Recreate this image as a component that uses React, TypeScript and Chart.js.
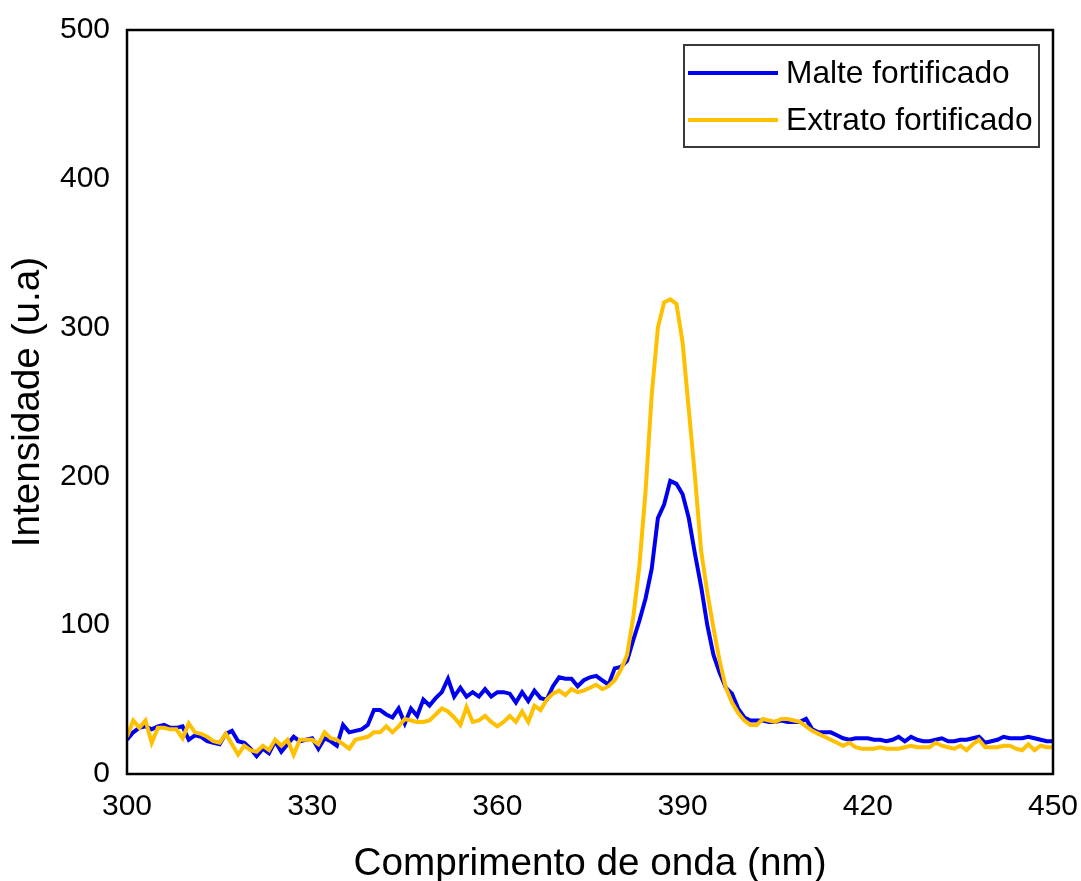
import React, { useEffect, useRef } from "react";
import { Chart, registerables } from "chart.js";

Chart.register(...registerables);

const START_NM = 300;
const STEP_NM = 1;

const malteValues = [
  23, 28, 31, 32, 30, 32, 33, 31, 31, 32,
  23, 26, 25, 22, 21, 20, 27, 29, 22, 21,
  17, 12, 17, 14, 22, 15, 20, 25, 22, 23,
  24, 17, 24, 22, 19, 33, 28, 29, 30, 33,
  43, 43, 40, 38, 44, 34, 44, 39, 50, 46,
  51, 55, 64, 52, 58, 52, 55, 52, 57, 52,
  55, 55, 54, 48, 55, 49, 56, 51, 50, 59,
  65, 64, 64, 59, 63, 65, 66, 63, 60, 71,
  72, 76, 90, 103, 118, 138, 172, 181, 197, 195,
  188, 172, 148, 126, 100, 80, 68, 58, 54, 44,
  38, 36, 36, 36, 35, 35, 36, 35, 35, 35,
  37, 30, 28, 28, 28, 26, 24, 23, 24, 24,
  24, 23, 23, 22, 23, 25, 22, 25, 23, 22,
  22, 23, 24, 22, 22, 23, 23, 24, 25, 21,
  22, 23, 25, 24, 24, 24, 25, 24, 23, 22,
  22,
];

const extratoValues = [
  25, 36, 31, 36, 21, 31, 31, 30, 30, 24,
  34, 28, 27, 25, 22, 21, 27, 20, 13, 19,
  16, 15, 19, 16, 23, 19, 23, 13, 23, 23,
  23, 20, 28, 24, 23, 20, 17, 23, 24, 25,
  28, 28, 32, 28, 32, 37, 36, 35, 35, 36,
  40, 44, 42, 38, 33, 45, 35, 36, 39, 35,
  32, 35, 39, 35, 42, 35, 46, 43, 50, 54,
  56, 53, 57, 55, 56, 58, 60, 57, 59, 63,
  70, 80, 105, 140, 190, 255, 300, 317, 319, 316,
  290, 245, 200, 150, 122, 98, 76, 58, 48, 41,
  36, 33, 33, 37, 36, 35, 37, 37, 36, 35,
  32, 29, 27, 25, 23, 21, 19, 21, 18, 17,
  17, 17, 18, 17, 17, 17, 18, 19, 18, 18,
  18, 21, 19, 18, 17, 19, 16, 20, 23, 18,
  18, 18, 19, 19, 17, 16, 20, 16, 19, 18,
  18,
];

const seriesLabels = ["Malte fortificado", "Extrato fortificado"];
const xTicks = [300, 330, 360, 390, 420, 450];
const yTicks = [0, 100, 200, 300, 400, 500];

const FONT = "'Liberation Sans', Arial, sans-serif";

const toPoints = (vals: number[]) =>
  vals.map((v, i) => ({ x: START_NM + i * STEP_NM, y: v }));

const boxPlugin = {
  id: "boxPlugin",
  afterDatasetsDraw(chart: any) {
    const { ctx, chartArea } = chart;
    ctx.save();
    ctx.strokeStyle = "#000";
    ctx.lineWidth = 2.5;
    ctx.strokeRect(
      chartArea.left,
      chartArea.top,
      chartArea.right - chartArea.left,
      chartArea.bottom - chartArea.top
    );
    ctx.restore();
  },
};

const legendPlugin = {
  id: "customLegend",
  afterDraw(chart: any) {
    const { ctx } = chart;
    const left = 684;
    const top = 45;
    const width = 355;
    const height = 102;
    ctx.save();
    ctx.fillStyle = "#fff";
    ctx.fillRect(left, top, width, height);
    ctx.strokeStyle = "#3a3a3a";
    ctx.lineWidth = 2;
    ctx.strokeRect(left, top, width, height);
    const rows = [73, 120];
    chart.data.datasets.forEach((ds: any, i: number) => {
      const y = rows[i];
      ctx.strokeStyle = ds.borderColor;
      ctx.lineWidth = 4;
      ctx.beginPath();
      ctx.moveTo(688, y);
      ctx.lineTo(778, y);
      ctx.stroke();
      ctx.fillStyle = "#000";
      ctx.font = `31.7px ${FONT}`;
      ctx.textBaseline = "middle";
      ctx.textAlign = "left";
      ctx.fillText(ds.label, 786, y + 1);
    });
    ctx.restore();
  },
};

export default function App() {
  const canvasRef = useRef<HTMLCanvasElement | null>(null);

  useEffect(() => {
    const canvas = canvasRef.current;
    if (!canvas) return;
    const chart = new Chart(canvas, {
      type: "line",
      data: {
        datasets: [
          {
            label: seriesLabels[0],
            data: toPoints(malteValues),
            borderColor: "#0000F0",
            backgroundColor: "#0000F0",
            borderWidth: 4,
            pointRadius: 0,
            tension: 0,
            order: 1,
          },
          {
            label: seriesLabels[1],
            data: toPoints(extratoValues),
            borderColor: "#FFC000",
            backgroundColor: "#FFC000",
            borderWidth: 4,
            pointRadius: 0,
            tension: 0,
            order: 0,
          },
        ],
      },
      options: {
        responsive: false,
        animation: false,
        layout: { padding: { left: 0, right: 28, top: 30, bottom: 0 } },
        plugins: {
          legend: { display: false },
          tooltip: { enabled: false },
        },
        scales: {
          x: {
            type: "linear",
            min: 300,
            max: 450,
            afterBuildTicks: (scale: any) => {
              scale.ticks = xTicks.map((v) => ({ value: v }));
            },
            afterFit: (scale: any) => {
              scale.height = 107;
              scale.paddingLeft = 0;
              scale.paddingRight = 0;
            },
            grid: { display: false, drawTicks: false },
            border: { display: false },
            ticks: {
              color: "#000",
              padding: 15,
              font: { family: FONT, size: 30 },
              maxRotation: 0,
            },
            title: {
              display: true,
              text: "Comprimento de onda (nm)",
              color: "#000",
              font: { family: FONT, size: 38.7, lineHeight: 0.85 },
              padding: { top: 0, bottom: 0 },
            },
          },
          y: {
            type: "linear",
            min: 0,
            max: 500,
            afterBuildTicks: (scale: any) => {
              scale.ticks = yTicks.map((v) => ({ value: v }));
            },
            afterFit: (scale: any) => {
              scale.width = 127;
              scale.paddingTop = 0;
              scale.paddingBottom = 0;
            },
            grid: { display: false, drawTicks: false },
            border: { display: false },
            ticks: {
              color: "#000",
              padding: 17,
              font: { family: FONT, size: 30 },
            },
            title: {
              display: true,
              text: "Intensidade (u.a)",
              color: "#000",
              font: { family: FONT, size: 38.7, lineHeight: 1.2 },
              padding: { top: 5, bottom: 0 },
            },
          },
        },
      },
      plugins: [boxPlugin, legendPlugin],
    });
    return () => chart.destroy();
  }, []);

  return (
    <div
      style={{
        position: "fixed",
        left: 0,
        top: 0,
        width: 1081,
        height: 881,
        background: "#fff",
      }}
    >
      <canvas ref={canvasRef} width={1081} height={881} />
    </div>
  );
}
